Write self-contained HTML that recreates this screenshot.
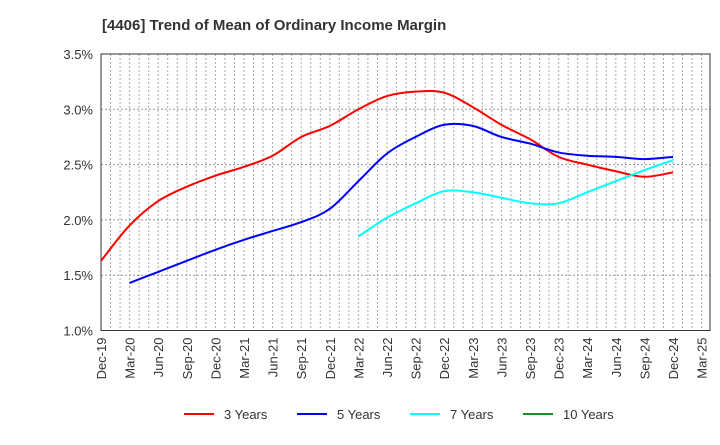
<!DOCTYPE html>
<html><head><meta charset="utf-8"><style>
body{margin:0;background:#fff;font-family:"Liberation Sans",Arial,sans-serif}
svg text{font-family:"Liberation Sans",Arial,sans-serif}
</style></head><body>
<svg width="720" height="440" viewBox="0 0 720 440">
<text x="102" y="30" font-size="15" font-weight="bold" fill="#333">[4406]  Trend of Mean of Ordinary Income Margin</text>
<g id="grid"></g>
<g id="axes"></g>
<g id="series"></g>
<g id="legend"></g>
</svg>
<script>
const xLabels=["Dec-19","Mar-20","Jun-20","Sep-20","Dec-20","Mar-21","Jun-21","Sep-21","Dec-21","Mar-22","Jun-22","Sep-22","Dec-22","Mar-23","Jun-23","Sep-23","Dec-23","Mar-24","Jun-24","Sep-24","Dec-24","Mar-25"];
const yTicks=[1.0,1.5,2.0,2.5,3.0,3.5];
const y3=[1.63,1.95,2.17,2.3,2.4,2.48,2.58,2.75,2.85,3.0,3.12,3.16,3.15,3.02,2.86,2.73,2.57,2.5,2.44,2.39,2.43];
const y5=[null,1.43,1.53,1.63,1.73,1.82,1.9,1.98,2.1,2.35,2.6,2.75,2.86,2.85,2.75,2.69,2.61,2.58,2.57,2.55,2.57];
const y7=[null,null,null,null,null,null,null,null,null,1.85,2.02,2.15,2.26,2.25,2.2,2.15,2.15,2.25,2.35,2.45,2.54];
const y10=[];
const seriesNames=["3 Years","5 Years","7 Years","10 Years"];
const colors=["#ff0000","#0000ff","#00ffff","#228b22"];
const L=101,R=710,T=54,B=330.5,STEP=28.6;
const ns="http://www.w3.org/2000/svg";
const X=i=>L+STEP*i;
const Y=v=>B-(v-1.0)/(3.5-1.0)*(B-T);
function mk(tag,attrs,parent){const e=document.createElementNS(ns,tag);for(const k in attrs)e.setAttribute(k,attrs[k]);parent.appendChild(e);return e;}
const grid=document.getElementById('grid'),axes=document.getElementById('axes'),ser=document.getElementById('series'),leg=document.getElementById('legend');
for(let m=1;L+m*STEP/3<R-1;m++){const x=L+m*STEP/3;const l=mk('line',{x1:x,x2:x,y1:T,y2:B,stroke:'#aaa','stroke-width':1,'stroke-dasharray':'2,2'},grid);

}
yTicks.forEach(v=>{const y=Y(v);
if(v>1.0&&v<3.5){const g=mk('line',{x1:L,x2:R,y1:y,y2:y,stroke:'#999','stroke-width':1,'stroke-dasharray':'2,2'},grid);

}
const t=mk('text',{x:L-8,y:y+5,'text-anchor':'end','font-size':13,fill:'#333'},axes);t.textContent=v.toFixed(1)+'%';

});
const fr=mk('rect',{x:L,y:T,width:R-L,height:B-T,fill:'none',stroke:'#333','stroke-width':1},axes);


xLabels.forEach((s,i)=>{const x=X(i);const t=mk('text',{x:0,y:0,'text-anchor':'end','font-size':13,fill:'#333',transform:`translate(${x+5},${B+7}) rotate(-90)`},axes);t.textContent=s;

});
function path(arr){const pts=[];arr.forEach((v,i)=>{if(v!=null)pts.push([X(i),Y(v)]);});if(pts.length<2)return '';
let d=`M${pts[0][0]},${pts[0][1]}`;for(let i=0;i<pts.length-1;i++){const p0=pts[i-1]||pts[i],p1=pts[i],p2=pts[i+1],p3=pts[i+2]||p2;
const c1=[p1[0]+(p2[0]-p0[0])/6,p1[1]+(p2[1]-p0[1])/6],c2=[p2[0]-(p3[0]-p1[0])/6,p2[1]-(p3[1]-p1[1])/6];
d+=`C${c1[0]},${c1[1]} ${c2[0]},${c2[1]} ${p2[0]},${p2[1]}`;}return d;}
[y3,y5,y7,y10].forEach((a,k)=>{const d=path(a);if(!d)return;const p=mk('path',{d:d,fill:'none',stroke:colors[k],'stroke-width':2},ser);

});
const lx=[184,297,410,523];
seriesNames.forEach((n,k)=>{const l=mk('line',{x1:lx[k],x2:lx[k]+30,y1:414,y2:414,stroke:colors[k],'stroke-width':2},leg);


const t=mk('text',{x:lx[k]+40,y:419,'font-size':13,fill:'#333'},leg);t.textContent=n;

});
</script>
</body></html>
